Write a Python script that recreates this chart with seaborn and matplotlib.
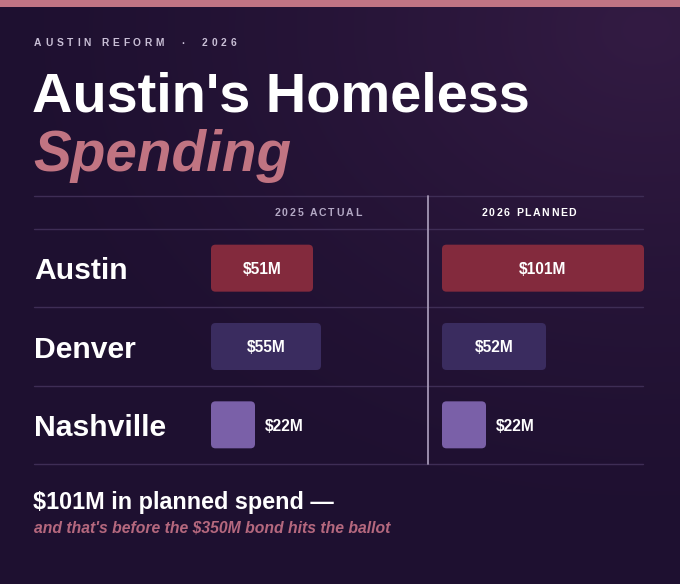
import numpy as np
import pandas as pd
import matplotlib
matplotlib.use("Agg")
import matplotlib.pyplot as plt
from matplotlib.patches import FancyBboxPatch, Rectangle
from matplotlib.font_manager import FontProperties
import seaborn as sns

# ---------------- data ----------------
cities = ["Austin", "Denver", "Nashville"]
actual_2025 = [51, 55, 22]
planned_2026 = [101, 52, 22]
column_titles = ["2025 ACTUAL", "2026 PLANNED"]
bar_colors = ["#832a3d", "#3a2c5f", "#7a60a8"]

kicker = "AUSTIN REFORM  ·  2026"
title_1 = "Austin's Homeless"
title_2 = "Spending"
foot_1 = "$101M in planned spend \u2014"
foot_2 = "and that's before the $350M bond hits the ballot"

# ---------------- style ----------------
sns.set_theme(style="white")
FONT = "Liberation Sans"
plt.rcParams["font.family"] = [FONT, "DejaVu Sans"]

W, H = 680, 584
fig = plt.figure(figsize=(W / 100, H / 100), dpi=100)

# background axes in pixel coordinates
bg = fig.add_axes([0, 0, 1, 1])
bg.set_xlim(0, W)
bg.set_ylim(H, 0)
bg.set_axis_off()

yy, xx = np.mgrid[0:H, 0:W]
xn = xx / W
yn = yy / H
d = np.sqrt(((xn - 0.95) / 1.0) ** 2 + ((yn - 0.05) / 0.9) ** 2)
t = np.clip(1 - d, 0, 1) ** 1.4
base = np.array([0x1e, 0x10, 0x30]) / 255
light = np.array([0x33, 0x1b, 0x43]) / 255
img = base[None, None, :] + t[..., None] * (light - base)[None, None, :]
bg.imshow(img, extent=(0, W, H, 0), aspect="auto", zorder=0, interpolation="bilinear")
bg.set_xlim(0, W)
bg.set_ylim(H, 0)

# top accent bar
bg.add_patch(Rectangle((0, 0), W, 6.5, color="#c07484", zorder=1, lw=0))

renderer = fig.canvas.get_renderer()


def text_width(s, size, weight="bold", style="normal"):
    prop = FontProperties(family=FONT, size=size, weight=weight, style=style)
    w1, _, _ = renderer.get_text_width_height_descent("x" + s + "x", prop, ismath=False)
    w0, _, _ = renderer.get_text_width_height_descent("xx", prop, ismath=False)
    return w1 - w0


def tracked(x, y, s, size, color, track, ha="left", weight="bold"):
    widths = [text_width(ch, size, weight) for ch in s]
    total = sum(widths) + track * (len(s) - 1)
    if ha == "center":
        x = x - total / 2
    cx = x
    for ch, w in zip(s, widths):
        if ch != " ":
            bg.text(cx, y, ch, fontsize=size, fontweight=weight, color=color,
                    ha="left", va="center", zorder=5)
        cx += w + track


# kicker
tracked(34, 43.5, kicker, 7.4, "#c9bfd6", 3.8)

# titles
bg.text(32, 112, title_1, fontsize=40.3, fontweight="bold", color="white",
        ha="left", va="baseline", zorder=5)
bg.text(33, 171, title_2, fontsize=40.8, fontweight="bold", fontstyle="italic",
        color="#c17482", ha="left", va="baseline", zorder=5)

# table grid lines
for ly in [196, 229, 307, 386, 464]:
    bg.plot([34, 643], [ly, ly], color="#3e2d55", lw=1.0, zorder=2)
bg.plot([427.5, 427.5], [196, 464], color="#a497b5", lw=1.3, zorder=3)

# column headers
tracked(318, 213, column_titles[0], 7.6, "#b3a8c4", 1.8, ha="center")
tracked(529, 213, column_titles[1], 7.6, "white", 1.6, ha="center")

# row labels
row_centers = [268, 347, 425.5]
for c, yc in zip(cities, row_centers):
    bg.text(34, yc, c, fontsize=21.7, fontweight="bold", color="white",
            ha="left", va="center_baseline", zorder=5)

# footer
bg.text(33, 509, foot_1, fontsize=16.8, fontweight="bold", color="white",
        ha="left", va="baseline", zorder=5)
bg.text(34, 532, foot_2, fontsize=11.3, fontweight="bold", fontstyle="italic",
        color="#b5687e", ha="left", va="baseline", zorder=5)

# ---------------- bar panels ----------------
PX_PER_UNIT = 2.0
panel_w_px = 216
panel_top, panel_bot = 229, 464
panel_h_px = panel_bot - panel_top


def panel(left_px, values):
    ax = fig.add_axes([left_px / W, 1 - panel_bot / H, panel_w_px / W, panel_h_px / H])
    ax.patch.set_alpha(0)
    df = pd.DataFrame({"city": cities, "value": values})
    sns.barplot(data=df, x="value", y="city", hue="city", palette=bar_colors,
                orient="h", width=0.6, legend=False, ax=ax, saturation=1)
    ax.set_xlim(0, panel_w_px / PX_PER_UNIT)
    ax.set_ylim(len(cities) - 0.5, -0.5)
    ax.set_axis_off()
    y_units_per_px = len(cities) / panel_h_px
    x_units_per_px = 1 / PX_PER_UNIT
    r_px = 4.5
    for p in list(ax.patches):
        x0, y0 = p.get_x(), p.get_y()
        w, h = p.get_width(), p.get_height()
        fc = p.get_facecolor()
        p.set_visible(False)
        fb = FancyBboxPatch((x0, y0), w, h,
                            boxstyle=f"round,pad=0,rounding_size={r_px * x_units_per_px}",
                            mutation_aspect=y_units_per_px / x_units_per_px,
                            fc=fc, ec="none", clip_on=False, zorder=3)
        ax.add_patch(fb)
    for i, v in enumerate(values):
        lab = f"${v}M"
        if v * PX_PER_UNIT > 60:
            ax.text(v / 2, i, lab, ha="center", va="center_baseline", color="white",
                    fontsize=11.2, fontweight="bold", zorder=5, clip_on=False)
        else:
            ax.text(v + 10 / PX_PER_UNIT, i, lab, ha="left", va="center_baseline",
                    color="white", fontsize=11.2, fontweight="bold", zorder=5,
                    clip_on=False)
    return ax


panel(211, actual_2025)
panel(442, planned_2026)

fig.savefig("out.png", dpi=100, facecolor=fig.get_facecolor())
